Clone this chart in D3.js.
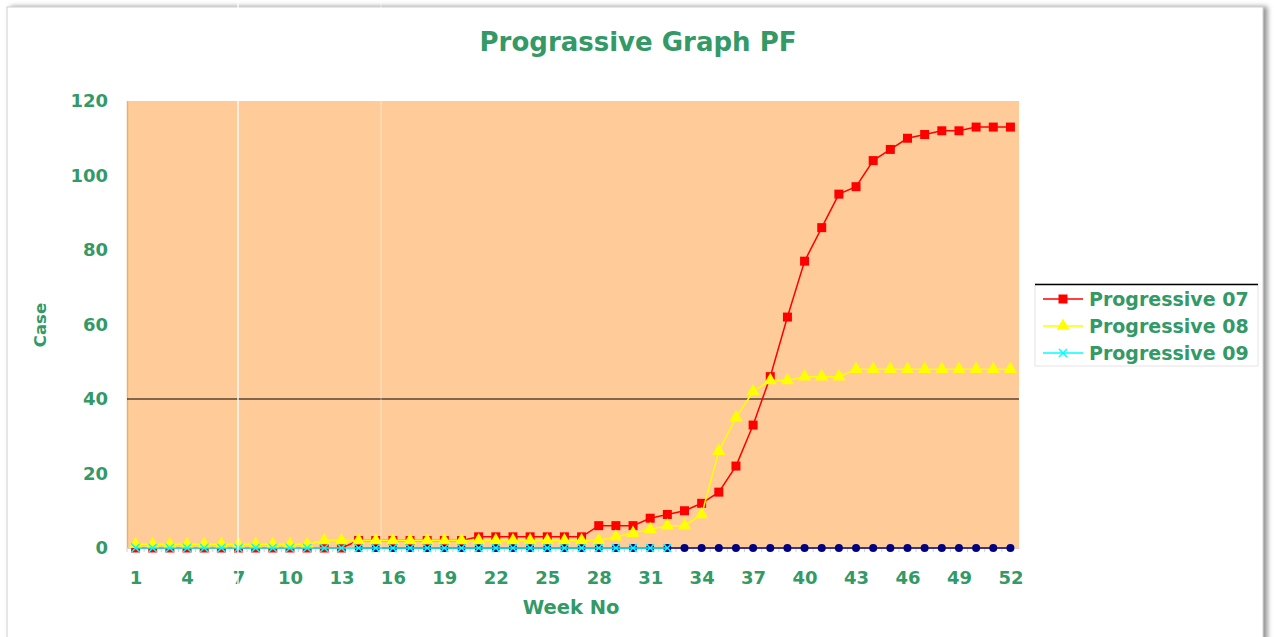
<!DOCTYPE html>
<html><head><meta charset="utf-8">
<script src="https://cdn.jsdelivr.net/npm/d3@7/dist/d3.min.js"></script>
<style>html,body{margin:0;padding:0;background:#fff;}svg{display:block;}</style>
</head><body>
<svg id="chart" width="1274" height="637"></svg>
<script>
const weeks = [1,2,3,4,5,6,7,8,9,10,11,12,13,14,15,16,17,18,19,20,21,22,23,24,25,26,27,28,29,30,31,32,33,34,35,36,37,38,39,40,41,42,43,44,45,46,47,48,49,50,51,52];
const xTickLabels = [1,4,7,10,13,16,19,22,25,28,31,34,37,40,43,46,49,52];
const yTicks = [0,20,40,60,80,100,120];
const prog07 = [0,0,0,0,0,0,0,0,0,0,0,0,0,2,2,2,2,2,2,2,3,3,3,3,3,3,3,6,6,6,8,9,10,12,15,22,33,46,62,77,86,95,97,104,107,110,111,112,112,113,113,113];
const prog08 = [1,1,1,1,1,1,1,1,1,1,1,2,2,2,2,2,2,2,2,2,2,2,2,2,2,2,2,2,3,4,5,6,6,9,26,35,42,45,45,46,46,46,48,48,48,48,48,48,48,48,48,48];
const prog09 = [0,0,0,0,0,0,0,0,0,0,0,0,0,0,0,0,0,0,0,0,0,0,0,0,0,0,0,0,0,0,0,0,null,null,null,null,null,null,null,null,null,null,null,null,null,null,null,null,null,null,null,null];
const prog10 = [null,null,null,null,null,null,null,null,null,null,null,null,null,0,0,0,0,0,0,0,0,0,0,0,0,0,0,0,0,0,0,0,0,0,0,0,0,0,0,0,0,0,0,0,0,0,0,0,0,0,0,0];
const seriesNames = ["Progressive 07","Progressive 08","Progressive 09"];

const green = "#339966";
const FONT = "DejaVu Sans, Verdana, sans-serif";
const svg = d3.select("#chart");
const W = 1274, H = 637;

// card frame
const defs = svg.append("defs");
const f = defs.append("filter").attr("id","sh").attr("x","-5%").attr("y","-5%").attr("width","110%").attr("height","110%");
f.append("feDropShadow").attr("dx",4).attr("dy",0).attr("stdDeviation",2.5).attr("flood-color","#777").attr("flood-opacity",0.8);
svg.append("rect").attr("x",7).attr("y",7).attr("width",1256).attr("height",650)
  .attr("fill","#fff").attr("stroke","#d0d0d0").attr("stroke-width",1).attr("filter","url(#sh)");

const L = 127, R = 1019, T = 101, B = 548;
const x = d3.scalePoint().domain(weeks).range([L,R]).padding(0.5);
const y = d3.scaleLinear().domain([0,120]).range([B,T]);

// plot area
svg.append("rect").attr("x",L).attr("y",T).attr("width",R-L).attr("height",B-T).attr("fill","#FFCC99");
svg.append("line").attr("x1",L+0.5).attr("x2",L+0.5).attr("y1",T).attr("y2",B).attr("stroke","#E8AE78").attr("stroke-width",1.5);

// gridline at 40
svg.append("line").attr("x1",L).attr("x2",R).attr("y1",y(40)).attr("y2",y(40)).attr("stroke","#000").attr("stroke-width",1);

// x axis
const xAxis = d3.axisBottom(x).tickValues(xTickLabels).tickSize(0).tickPadding(23);
const gx = svg.append("g").attr("transform",`translate(0,${B})`).call(xAxis);
gx.select(".domain").attr("stroke","#cfcfcf");
gx.selectAll("text").attr("fill",green).attr("font-family",FONT).attr("font-weight","bold").attr("font-size","18px");
const step = x.step();
svg.append("g").selectAll("line").data(weeks).join("line")
  .attr("x1",d=>x(d)-step/2).attr("x2",d=>x(d)-step/2).attr("y1",B).attr("y2",B+4)
  .attr("stroke","#d0d0d0");

// y axis
const yAxis = d3.axisLeft(y).tickValues(yTicks).tickSize(0).tickPadding(19);
const gy = svg.append("g").attr("transform",`translate(${L},0)`).call(yAxis);
gy.select(".domain").remove();
gy.selectAll("text").attr("fill",green).attr("font-family",FONT).attr("font-weight","bold").attr("font-size","18px");

// titles
svg.append("text").attr("x",638).attr("y",51).attr("text-anchor","middle").attr("fill",green)
  .attr("font-family",FONT).attr("font-weight","bold").attr("font-size","26px").text("Prograssive Graph PF");
svg.append("text").attr("x",571).attr("y",614).attr("text-anchor","middle").attr("fill",green)
  .attr("font-family",FONT).attr("font-weight","bold").attr("font-size","19.5px").text("Week No");
svg.append("text").attr("transform","translate(46,325) rotate(-90)").attr("text-anchor","middle").attr("fill",green)
  .attr("font-family",FONT).attr("font-weight","bold").attr("font-size","16.5px").text("Case");

const line = d3.line().defined(d=>d.v!=null).x(d=>x(d.w)).y(d=>y(d.v));
const toPts = arr => weeks.map((w,i)=>({w:w,v:arr[i]}));

function drawMarker(g, type, color, cx, cy){
  if(type==="square"){
    g.append("rect").attr("x",cx-4.5).attr("y",cy-4.5).attr("width",9).attr("height",9).attr("fill",color);
  } else if(type==="triangle"){
    g.append("path").attr("d",d3.symbol().type(d3.symbolTriangle).size(75)()).attr("transform",`translate(${cx},${cy})`).attr("fill",color);
  } else if(type==="x"){
    g.append("path").attr("d",`M${cx-4},${cy-4}L${cx+4},${cy+4}M${cx-4},${cy+4}L${cx+4},${cy-4}`).attr("stroke",color).attr("stroke-width",1.5);
  } else if(type==="circle"){
    g.append("circle").attr("cx",cx).attr("cy",cy).attr("r",4).attr("fill",color);
  }
}

const series = [
  {data:prog10, color:"#000080", marker:"circle"},
  {data:prog07, color:"#FF0000", marker:"square"},
  {data:prog08, color:"#FFFF00", marker:"triangle"},
  {data:prog09, color:"#00FFFF", marker:"x"}
];
series.forEach(s=>{
  const g = svg.append("g");
  const pts = toPts(s.data);
  g.append("path").datum(pts).attr("d",line).attr("fill","none").attr("stroke",s.color).attr("stroke-width",1.5);
  pts.filter(p=>p.v!=null).forEach(p=>drawMarker(g,s.marker,s.color,x(p.w),y(p.v)));
});

// legend
const lg = svg.append("g");
lg.append("rect").attr("x",1035).attr("y",284).attr("width",223).attr("height",82).attr("fill","#fff").attr("stroke","#e4e4e4");
lg.append("line").attr("x1",1035).attr("x2",1258).attr("y1",284.5).attr("y2",284.5).attr("stroke","#000").attr("stroke-width",1.5);
const legendDefs = [
  {name:seriesNames[0], color:"#FF0000", marker:"square"},
  {name:seriesNames[1], color:"#FFFF00", marker:"triangle"},
  {name:seriesNames[2], color:"#00FFFF", marker:"x"}
];
legendDefs.forEach((d,i)=>{
  const cy = 299 + i*27;
  lg.append("line").attr("x1",1043).attr("x2",1083).attr("y1",cy).attr("y2",cy).attr("stroke",d.color).attr("stroke-width",1.5);
  drawMarker(lg,d.marker,d.color,1063,cy);
  lg.append("text").attr("x",1089).attr("y",cy+7).attr("fill",green)
    .attr("font-family",FONT).attr("font-weight","bold").attr("font-size","19px").text(d.name);
});

// faint vertical artifact lines from the screenshot
svg.append("line").attr("x1",238).attr("x2",238).attr("y1",0).attr("y2",H).attr("stroke","#fff").attr("stroke-width",1.5).attr("opacity",0.9);
svg.append("line").attr("x1",381).attr("x2",381).attr("y1",0).attr("y2",H).attr("stroke","#fff").attr("stroke-width",1).attr("opacity",0.45);
</script>
</body></html>
